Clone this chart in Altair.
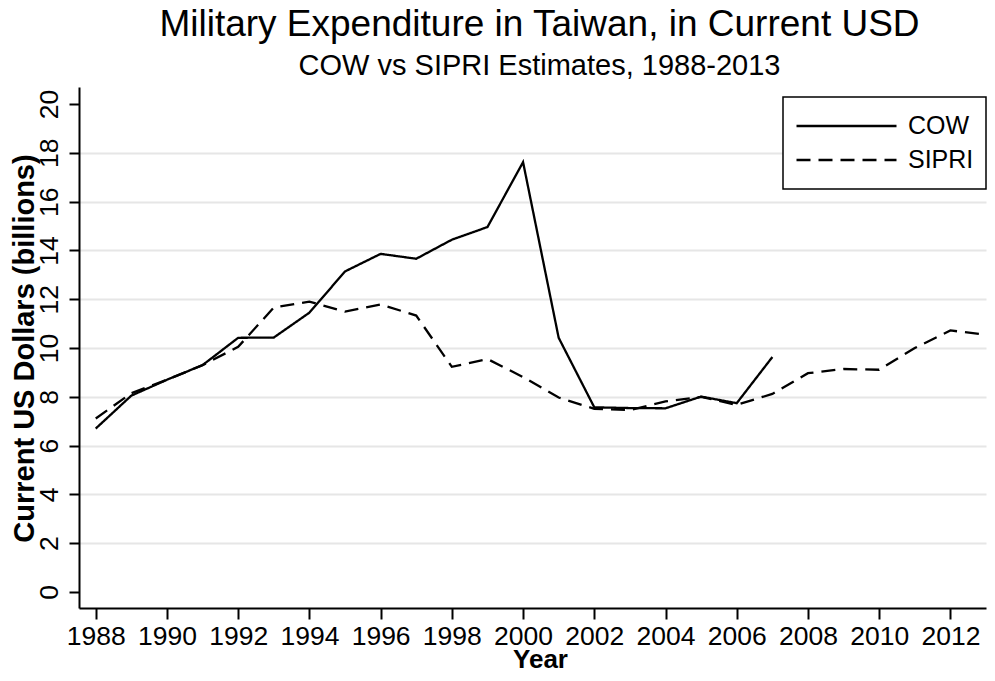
import altair as alt
import pandas as pd

# ---- data ----
cow_years = list(range(1988, 2008))
cow_values = [6.70, 8.05, 8.70, 9.30, 10.42, 10.43, 11.45, 13.14, 13.86, 13.66,
              14.44, 14.96, 17.62, 10.42, 7.57, 7.54, 7.53, 8.01, 7.74, 9.63]

sipri_years = list(range(1988, 2014))
sipri_values = [7.11, 8.15, 8.70, 9.30, 10.05, 11.66, 11.90, 11.49, 11.79, 11.33,
                9.23, 9.55, 8.81, 7.97, 7.51, 7.46, 7.81, 8.00, 7.67, 8.12,
                8.97, 9.14, 9.11, 10.00, 10.72, 10.55]

series_names = ["COW", "SIPRI"]
x_ticks = list(range(1988, 2013, 2))
y_ticks = list(range(0, 21, 2))

df = pd.concat([
    pd.DataFrame({"year": cow_years, "value": cow_values, "series": "COW"}),
    pd.DataFrame({"year": sipri_years, "value": sipri_values, "series": "SIPRI"}),
], ignore_index=True)

FONT = "Liberation Sans"
LABEL_SIZE = 26.5

chart = alt.Chart(df).mark_line(color="black", strokeWidth=2.3).encode(
    x=alt.X(
        "year:Q",
        scale=alt.Scale(domain=[1987.53, 2013.0], nice=False, zero=False),
        axis=alt.Axis(
            title="Year",
            values=x_ticks,
            format="d",
            grid=False,
            tickSize=11,
            labelPadding=4,
            labelFontSize=LABEL_SIZE,
            titleFontSize=26,
            titleFontWeight="bold",
            titleX=461,
            titleY=59,
            titleAlign="center",
            titleBaseline="alphabetic",
        ),
    ),
    y=alt.Y(
        "value:Q",
        scale=alt.Scale(domain=[-0.656, 20.70], nice=False, zero=False),
        axis=alt.Axis(
            title="Current US Dollars (billions)",
            values=y_ticks,
            grid=True,
            gridColor="#e6e6e6",
            gridWidth=2,
            gridOpacity={"condition": {"test": "datum.value == 0 || datum.value == 20", "value": 0}, "value": 1},
            tickSize=10,
            labelAngle=270,
            labelAlign="center",
            labelBaseline="alphabetic",
            labelPadding=12,
            labelFontSize=LABEL_SIZE,
            titleFontSize=29,
            titleFontWeight="bold",
            titleAngle=270,
            titleX=-46,
            titleY=261,
            titleAlign="center",
            titleBaseline="alphabetic",
        ),
    ),
    strokeDash=alt.StrokeDash(
        "series:N",
        scale=alt.Scale(domain=series_names, range=[[1, 0], [14, 8]]),
        legend=alt.Legend(
            title=None,
            orient="none",
            legendX=704,
            legendY=10,
            strokeColor="black",
            fillColor="white",
            padding=12,
            cornerRadius=0,
            symbolType="stroke",
            symbolSize=10000,
            symbolStrokeWidth=2.3,
            symbolStrokeColor="black",
            clipHeight=34,
            labelFontSize=25,
            labelFont=FONT,
            labelColor="black",
            labelOffset=10,
            rowPadding=0,
        ),
    ),
    detail="series:N",
).properties(
    width=907,
    height=521,
    padding={"left": 71, "top": 79, "right": 1, "bottom": 65},
    autosize=alt.AutoSizeParams(type="none"),
    title=alt.Title(
        "Military Expenditure in Taiwan, in Current USD",
        subtitle="COW vs SIPRI Estimates, 1988-2013",
        fontSize=37,
        subtitleFontSize=29,
        font=FONT,
        subtitleFont=FONT,
        fontWeight="normal",
        color="black",
        subtitleColor="black",
        anchor="middle",
        frame="group",
        offset=5,
        subtitlePadding=8,
        dx=7,
    ),
).configure_view(
    stroke=None
).configure_axis(
    domainColor="black",
    domainWidth=2,
    tickColor="black",
    tickWidth=2,
    labelFont=FONT,
    titleFont=FONT,
    labelColor="black",
    titleColor="black",
).configure_legend(
    strokeWidth=1.5,
)

chart.save("out.html", embed_options={"renderer": "svg", "actions": False})
